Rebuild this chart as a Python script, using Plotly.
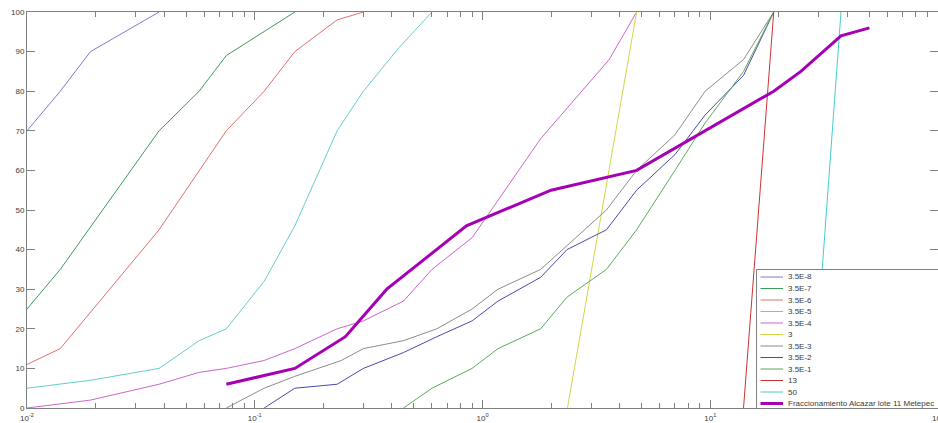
import plotly.graph_objects as go

# ---------------- data ----------------
names = ["3.5E-8", "3.5E-7", "3.5E-6", "3.5E-5", "3.5E-4", "3", "3.5E-3",
         "3.5E-2", "3.5E-1", "13", "50", "Fraccionamiento Alcazar lote 11 Metepec"]

x_35e8 = [0.01, 0.014, 0.019, 0.038]
y_35e8 = [70, 80, 90, 100]

x_35e7 = [0.01, 0.014, 0.038, 0.057, 0.075, 0.15]
y_35e7 = [25, 35, 70, 80, 89, 100]

x_35e6 = [0.01, 0.014, 0.038, 0.075, 0.11, 0.15, 0.23, 0.3]
y_35e6 = [11, 15, 45, 70, 80, 90, 98, 100]

x_35e5 = [0.01, 0.019, 0.038, 0.057, 0.075, 0.11, 0.15, 0.23, 0.3, 0.43, 0.6]
y_35e5 = [5, 7, 10, 17, 20, 32, 46, 70, 80, 91, 100]

x_35e4 = [0.01, 0.019, 0.038, 0.057, 0.075, 0.11, 0.15, 0.23, 0.3, 0.45, 0.6, 0.9, 1.8, 3.6, 4.75]
y_35e4 = [0, 2, 6, 9, 10, 12, 15, 20, 22, 27, 35, 43, 68, 88, 100]

x_3 = [2.36, 4.75]
y_3 = [0, 100]

x_35e3 = [0.075, 0.11, 0.15, 0.24, 0.3, 0.45, 0.63, 0.9, 1.17, 1.8, 2.35, 3.5, 4.75, 7.0, 9.5, 14, 19]
y_35e3 = [0, 5, 8, 12, 15, 17, 20, 25, 30, 35, 41, 50, 60, 69, 80, 88, 100]

x_35e2 = [0.11, 0.15, 0.23, 0.3, 0.45, 0.63, 0.9, 1.17, 1.8, 2.35, 3.5, 4.75, 7.0, 9.5, 14, 19]
y_35e2 = [0, 5, 6, 10, 14, 18, 22, 27, 33, 40, 45, 55, 64, 74, 84, 100]

x_35e1 = [0.45, 0.6, 0.9, 1.17, 1.8, 2.35, 3.5, 4.75, 7.0, 9.5, 14, 19]
y_35e1 = [0, 5, 10, 15, 20, 28, 35, 45, 60, 72, 85, 100]

x_13 = [14, 19]
y_13 = [0, 100]

x_50 = [28, 37.5]
y_50 = [0, 100]

x_frac = [0.075, 0.15, 0.25, 0.38, 0.85, 2.0, 4.75, 9.5, 19, 25, 37.5, 50]
y_frac = [6, 10, 18, 30, 46, 55, 60, 70, 80, 85, 94, 96]

xs = [x_35e8, x_35e7, x_35e6, x_35e5, x_35e4, x_3, x_35e3, x_35e2, x_35e1, x_13, x_50, x_frac]
ys = [y_35e8, y_35e7, y_35e6, y_35e5, y_35e4, y_3, y_35e3, y_35e2, y_35e1, y_13, y_50, y_frac]

x_tickvals = [0.01, 0.1, 1, 10, 100]
x_ticktext = ["10<sup>-2</sup>", "10<sup>-1</sup>", "10<sup>0</sup>", "10<sup>1</sup>", "10<sup>2</sup>"]
y_tickvals = [0, 10, 20, 30, 40, 50, 60, 70, 80, 90, 100]

# ---------------- style ----------------
colors = ["#7b7bd0", "#3c9a5c", "#e07070", "#66cccc", "#cc66cc", "#d4d44a",
          "#8c8c8c", "#4a4aaa", "#5aaa5a", "#cc3333", "#44cccc", "#a600b4"]
widths = [1] * 11 + [3]

W, H = 938, 423
ML, MR, MT, MB = 27, 0, 12, 15
PW, PH = W - ML - MR, H - MT - MB

FONT = "Liberation Sans, Arial, sans-serif"
TXT = "#3a3a3a"
AXC = "#808080"

fig = go.Figure()
for n, x, y, c, w in zip(names, xs, ys, colors, widths):
    fig.add_trace(go.Scatter(x=x, y=y, mode="lines", name=n,
                             line=dict(color=c, width=w), showlegend=False))

minor_vals = [k * 10 ** e for e in range(-2, 2) for k in range(2, 10)]

fig.update_layout(
    width=W, height=H,
    margin=dict(l=ML, r=MR, t=MT, b=MB, pad=0, autoexpand=False),
    paper_bgcolor="white", plot_bgcolor="white",
    font=dict(family=FONT, size=8, color=TXT),
    xaxis=dict(type="log", range=[-2, 2], tickmode="array",
               tickvals=x_tickvals, ticktext=x_ticktext, automargin=False,
               ticks="inside", ticklen=8, tickwidth=1, tickcolor=AXC,
               showline=True, linecolor=AXC, linewidth=1, mirror="ticks",
               showgrid=False, zeroline=False, ticklabelstandoff=2,
               ticklabeloverflow="allow",
               tickfont=dict(family=FONT, size=8, color=TXT),
               minor=dict(tickmode="array", tickvals=minor_vals, ticks="inside",
                          ticklen=5, tickwidth=1, tickcolor=AXC, showgrid=False)),
    yaxis=dict(range=[0, 100], tickmode="array", tickvals=y_tickvals, automargin=False,
               ticks="inside", ticklen=8, tickwidth=1, tickcolor=AXC,
               showline=True, linecolor=AXC, linewidth=1, mirror="ticks",
               showgrid=False, zeroline=False,
               tickfont=dict(family=FONT, size=8, color=TXT)),
    showlegend=False,
)

# ---------------- legend box (built from names / colors) ----------------
def px_x(p):
    return (p - ML) / PW

def px_y(p):
    return (H - MB - p) / PH

box_left, box_top = 756.5, 269.5
row0, row_step = 277.0, 11.5
sample_x0, sample_x1, text_x = 760.5, 783.0, 786.0

fig.add_shape(type="rect", xref="paper", yref="paper",
              x0=px_x(box_left), x1=px_x(W + 20), y0=px_y(H - MB + 0.5), y1=px_y(box_top),
              fillcolor="white", line=dict(color=AXC, width=1), layer="above")
for i, (n, c, w) in enumerate(zip(names, colors, widths)):
    yc = px_y(row0 + i * row_step)
    fig.add_shape(type="line", xref="paper", yref="paper",
                  x0=px_x(sample_x0), x1=px_x(sample_x1), y0=yc, y1=yc,
                  line=dict(color=c, width=w), layer="above")
    fig.add_annotation(xref="paper", yref="paper", x=px_x(text_x), y=yc,
                       text=n, showarrow=False, xanchor="left", yanchor="middle",
                       font=dict(family=FONT, size=8, color=TXT))

fig.write_html("out.html", config={"displayModeBar": False},
               post_script="document.body.style.margin='0';document.body.style.overflow='hidden';")
